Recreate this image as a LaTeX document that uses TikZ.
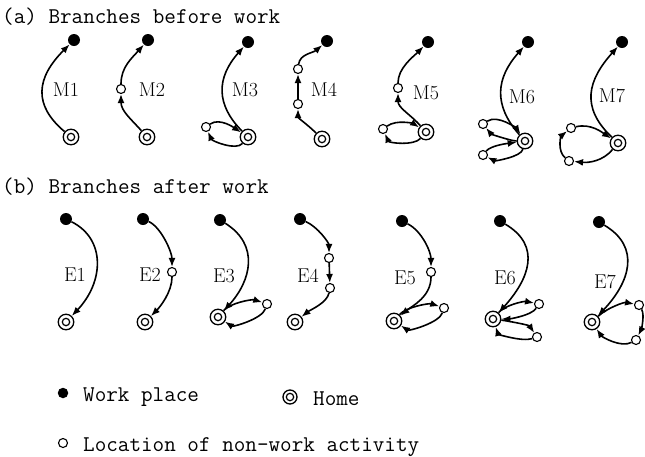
\documentclass[tikz,border=0pt]{standalone}
\usepackage{fontspec}
\usetikzlibrary{arrows.meta}
\tikzset{
  wp/.style={circle, fill=black, inner sep=0pt, minimum size=12pt},
  hm/.style={circle, draw, line width=1.3pt, inner sep=0pt, minimum size=15.5pt,
    path picture={\draw[line width=1.2pt] (path picture bounding box.center) circle (3.7pt);}},
  nw/.style={circle, draw, fill=white, line width=1.1pt, inner sep=0pt, minimum size=9pt},
  ln/.style={line width=1.6pt},
  ar/.style={ln, -{Latex[length=9pt,width=7pt]}},
  ttl/.style={anchor=base west, inner sep=0pt, font=\ttfamily\fontsize{22.5}{27}\selectfont},
  lab/.style={inner sep=0pt, font=\fontsize{20}{24}\selectfont}
}
\begin{document}
\begin{tikzpicture}[x=1pt,y=-1pt]
\useasboundingbox (0,0) rectangle (645,456);
% titles
\node[ttl] (ta) at (2,23.5) {(a) Branches before work};
\node[ttl] (tb) at (2,193.5) {(b) Branches after work};
% ---------- Row (a) ----------
% M1
\node[wp] (w1) at (74,40) {};
\node[hm] (h1) at (71,137) {};
\node[lab] (l1) at (66,90) {M1};
\draw[ar] (h1) .. controls +(-38,-32) and +(-38,38) .. (w1);
% M2
\node[wp] (w2) at (148,40) {};
\node[hm] (h2) at (147,137) {};
\node[nw] (c2) at (121,89) {};
\node[lab] (l2) at (152,90) {M2};
\draw[ar] (h2) .. controls +(-16,-18) and +(0,22) .. (c2);
\draw[ar] (c2) .. controls +(0,-22) and +(-16,18) .. (w2);
% M3
\node[wp] (w3) at (248,42) {};
\node[hm] (h3) at (248,137) {};
\node[nw] (c3) at (206,127) {};
\node[lab] (l3) at (245,90) {M3};
\draw[ar] (h3) .. controls +(-32,-32) and +(-32,36) .. (w3);
\draw[ar] (h3) .. controls +(-12,14) and +(6,14) .. (c3);
\draw[ar] (c3) .. controls +(14,-10) and +(-12,-8) .. (h3);
% M4
\node[wp] (w4) at (327,41) {};
\node[hm] (h4) at (322,139) {};
\node[nw] (c4a) at (298,69) {};
\node[nw] (c4b) at (298,104) {};
\node[lab] (l4) at (324,90) {M4};
\draw[ar] (h4) .. controls +(-14,-14) and +(0,14) .. (c4b);
\draw[ar] (c4b) -- (c4a);
\draw[ar] (c4a) .. controls +(2,-15) and +(-14,12) .. (w4);
% M5
\node[wp] (w5) at (428,42) {};
\node[hm] (h5) at (426,132) {};
\node[nw] (c5) at (398,88) {};
\node[nw] (d5) at (383,129) {};
\node[lab] (l5) at (426,93) {M5};
\draw[ar] (h5) .. controls +(-16,-18) and +(0,20) .. (c5);
\draw[ar] (c5) .. controls +(0,-20) and +(-15,15) .. (w5);
\draw[ar] (h5) .. controls +(-12,14) and +(6,14) .. (d5);
\draw[ar] (d5) .. controls +(14,-10) and +(-12,-8) .. (h5);
% M6
\node[wp] (w6) at (528,42) {};
\node[hm] (h6) at (525,141) {};
\node[nw] (c6a) at (483,124) {};
\node[nw] (c6b) at (483,155) {};
\node[lab] (l6) at (522,97) {M6};
\draw[ar] (h6) .. controls +(-32,-36) and +(-32,36) .. (w6);
\draw[ar] (h6) .. controls +(-14,0) and +(8,10) .. (c6a);
\draw[ar] (c6a) .. controls +(15,-10) and +(-8,-12) .. (h6);
\draw[ar] (h6) .. controls +(-4,16) and +(12,6) .. (c6b);
\draw[ar] (c6b) .. controls +(8,-10) and +(-14,2) .. (h6);
% M7
\node[wp] (w7) at (622,42) {};
\node[hm] (h7) at (618,143) {};
\node[nw] (c7a) at (571,128) {};
\node[nw] (c7b) at (569,161) {};
\node[lab] (l7) at (612,96) {M7};
\draw[ar] (h7) .. controls +(-38,-36) and +(-34,38) .. (w7);
\draw[ar] (h7) .. controls +(-15,18) and +(20,2) .. (c7b);
\draw[ar] (c7b) .. controls +(-12,-10) and +(-10,8) .. (c7a);
\draw[ar] (c7a) .. controls +(20,-5) and +(-15,-10) .. (h7);
% ---------- Row (b) ----------
% E1
\node[wp] (v1) at (66,219) {};
\node[hm] (g1) at (66,322) {};
\node[lab] (m1) at (75,275) {E1};
\draw[ar] (v1) .. controls +(40,20) and +(38,-40) .. (g1);
% E2
\node[wp] (v2) at (143,219) {};
\node[hm] (g2) at (145,322) {};
\node[nw] (e2) at (172,272) {};
\node[lab] (m2) at (150,275) {E2};
\draw[ar] (v2) .. controls +(18,8) and +(0,-20) .. (e2);
\draw[ar] (e2) .. controls +(0,20) and +(15,-15) .. (g2);
% E3
\node[wp] (v3) at (220,220) {};
\node[hm] (g3) at (218,317) {};
\node[nw] (e3) at (267,304) {};
\node[lab] (m3) at (224,276) {E3};
\draw[ar] (v3) .. controls +(40,25) and +(33,-36) .. (g3);
\draw[ar] (g3) .. controls +(12,-14) and +(-15,-5) .. (e3);
\draw[ar] (e3) .. controls +(-5,15) and +(15,10) .. (g3);
% E4
\node[wp] (v4) at (300,219) {};
\node[hm] (g4) at (295,322) {};
\node[nw] (e4a) at (329,258) {};
\node[nw] (e4b) at (330,288) {};
\node[lab] (m4) at (308,276) {E4};
\draw[ar] (v4) .. controls +(18,8) and +(0,-15) .. (e4a);
\draw[ar] (e4a) -- (e4b);
\draw[ar] (e4b) .. controls +(-3,15) and +(15,-12) .. (g4);
% E5
\node[wp] (v5) at (402,221) {};
\node[hm] (g5) at (394,321) {};
\node[nw] (e5) at (431,272) {};
\node[nw] (f5) at (444,308) {};
\node[lab] (m5) at (405,278) {E5};
\draw[ar] (v5) .. controls +(20,10) and +(0,-20) .. (e5);
\draw[ar] (e5) .. controls +(0,25) and +(18,-15) .. (g5);
\draw[ar] (g5) .. controls +(12,-14) and +(-15,-5) .. (f5);
\draw[ar] (f5) .. controls +(-5,15) and +(15,10) .. (g5);
% E6
\node[wp] (v6) at (500,221) {};
\node[hm] (g6) at (493,319) {};
\node[nw] (e6a) at (539,304) {};
\node[nw] (e6b) at (537,337) {};
\node[lab] (m6) at (505,278) {E6};
\draw[ar] (v6) .. controls +(42,25) and +(36,-40) .. (g6);
\draw[ar] (g6) .. controls +(12,-14) and +(-15,-3) .. (e6a);
\draw[ar] (e6a) .. controls +(-8,12) and +(15,0) .. (g6);
\draw[ar] (g6) .. controls +(15,2) and +(-8,-12) .. (e6b);
\draw[ar] (e6b) .. controls +(-15,5) and +(5,15) .. (g6);
% E7
\node[wp] (v7) at (599,222) {};
\node[hm] (g7) at (592,322) {};
\node[nw] (e7a) at (639,305) {};
\node[nw] (e7b) at (636,340) {};
\node[lab] (m7) at (605,282) {E7};
\draw[ar] (v7) .. controls +(42,25) and +(38,-40) .. (g7);
\draw[ar] (g7) .. controls +(15,-14) and +(-15,-3) .. (e7a);
\draw[ar] (e7a) .. controls +(6,10) and +(5,-10) .. (e7b);
\draw[ar] (e7b) .. controls +(-15,8) and +(10,15) .. (g7);
% ---------- Legend ----------
\node[wp, minimum size=10.5pt] (kw) at (63,393) {};
\node[ttl] (kwt) at (83,401) {Work place};
\node[hm, minimum size=14pt] (kh) at (290,397) {};
\node[ttl] (kht) at (313,405) {Home};
\node[nw] (kn) at (63,443) {};
\node[ttl] (knt) at (83,451) {Location of non-work activity};
\end{tikzpicture}
\end{document}
